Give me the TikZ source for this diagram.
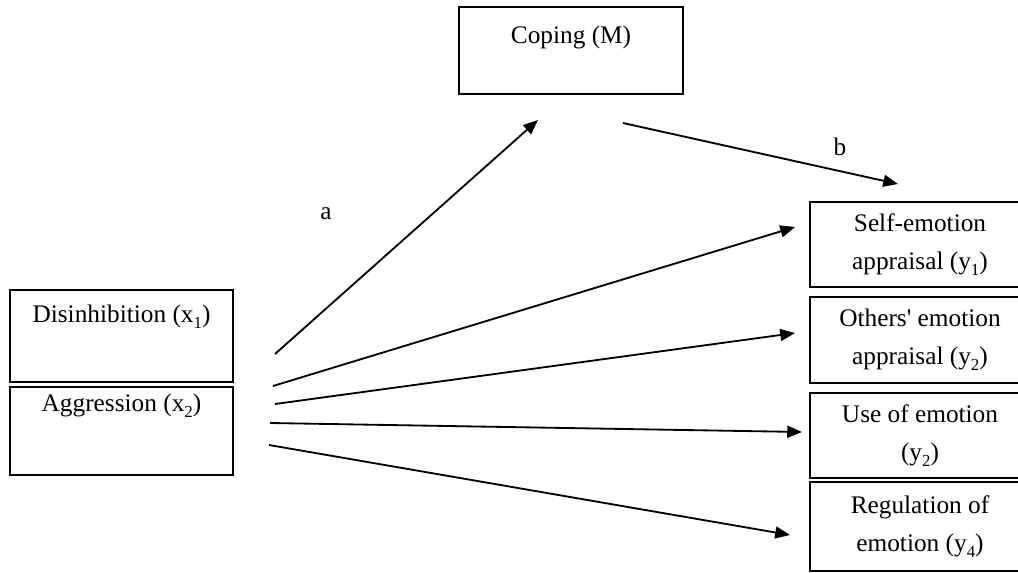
\documentclass[tikz,border=0pt]{standalone}
\usepackage{fontspec}
\setmainfont{Liberation Serif}
\usepackage{tikz}
\usetikzlibrary{arrows.meta}
\newcommand{\lowidx}[1]{\raisebox{-0.5ex}{\fontsize{12}{12}\selectfont #1}}
\tikzset{
  varbox/.style={
    draw,
    line width=1.3pt,
    align=center,
    inner sep=2pt,
    font=\fontsize{18}{27}\selectfont
  },
  predictorbox/.style={
    varbox,
    minimum width=5.575cm
  },
  outcomebox/.style={
    varbox,
    minimum width=5.5cm
  },
  pathlabel/.style={
    font=\fontsize{18}{27}\selectfont
  },
  patharrow/.style={
    -{Triangle[length=10.5pt,width=8.5pt]},
    line width=1.3pt
  }
}

\begin{document}
\begin{tikzpicture}[x=0.025cm, y=-0.025cm]
    \clip (0,0) rectangle (1018,572);

    \node[varbox, minimum width=5.6cm, minimum height=2.175cm] (coping) at (571,50.5) {Coping (M)\\[-4pt] \mbox{}};

    \node[predictorbox, minimum height=2.3cm] (disinh) at (121.5,336) {Disinhibition (x\lowidx{1})\\[4pt] \mbox{}};
    \node[predictorbox, minimum height=2.2cm] (aggr) at (121.5,431) {Aggression (x\lowidx{2})\\[13pt] \mbox{}};

    \node[outcomebox, minimum height=2.125cm] (selfea) at (920,244.5) {Self-emotion\\ appraisal (y\lowidx{1})};
    \node[outcomebox, minimum height=2.15cm] (othersea) at (920,340) {Others\textquotesingle{} emotion\\ appraisal (y\lowidx{2})};
    \node[outcomebox, minimum height=2.125cm] (useemo) at (920,435.5) {Use of emotion\\ (y\lowidx{2})};
    \node[outcomebox, minimum height=2.225cm] (regemo) at (920,526.5) {Regulation of\\ emotion (y\lowidx{4})};

    % free ends of the paths
    \coordinate (aStart) at (275,354);
    \coordinate (aEnd) at (538,120);
    \coordinate (bStart) at (623,123);
    \coordinate (bEnd) at (898,184);
    \coordinate (selfStart) at (273,386);
    \coordinate (selfEnd) at (795,227);
    \coordinate (othersStart) at (275,404);
    \coordinate (othersEnd) at (795,333);
    \coordinate (useStart) at (270,423);
    \coordinate (useEnd) at (802,432);
    \coordinate (regStart) at (269,445);
    \coordinate (regEnd) at (790,535);

    \draw[patharrow] (aStart) -- (aEnd);
    \draw[patharrow] (bStart) -- (bEnd);
    \draw[patharrow] (selfStart) -- (selfEnd);
    \draw[patharrow] (othersStart) -- (othersEnd);
    \draw[patharrow] (useStart) -- (useEnd);
    \draw[patharrow] (regStart) -- (regEnd);

    \node[pathlabel] (alabel) at (326,214) {a};
    \node[pathlabel] (blabel) at (840,147) {b};
\end{tikzpicture}
\end{document}
